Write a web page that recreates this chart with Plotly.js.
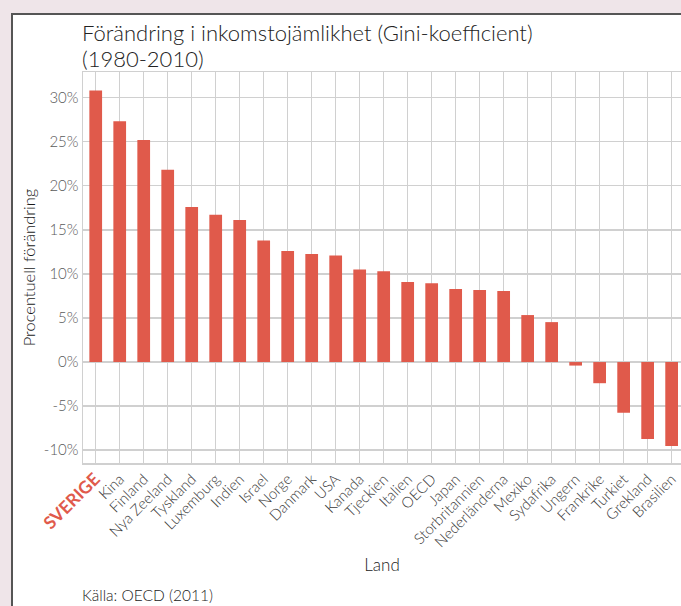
<!DOCTYPE html>
<html>
<head>
<meta charset="utf-8">
<script src="https://cdn.plot.ly/plotly-3.0.1.min.js"></script>
<style>
  html, body { margin: 0; padding: 0; background: #efe5e9; overflow: hidden; }
  #panel { position: absolute; left: 11px; top: 13px; width: 800px; height: 700px;
           background: #ffffff; border-left: 2px solid #555; border-top: 2px solid #555; }
  #chart { position: absolute; left: 0; top: 0; width: 681px; height: 606px; }
</style>
</head>
<body>
<div id="panel"></div>
<div id="chart"></div>
<script>
const countries = ["SVERIGE", "Kina", "Finland", "Nya Zeeland", "Tyskland", "Luxemburg", "Indien",
  "Israel", "Norge", "Danmark", "USA", "Kanada", "Tjeckien", "Italien", "OECD", "Japan",
  "Storbritannien", "Nederländerna", "Mexiko", "Sydafrika", "Ungern", "Frankrike", "Turkiet",
  "Grekland", "Brasilien"];
const changePct = [30.8, 27.3, 25.2, 21.8, 17.6, 16.7, 16.1, 13.8, 12.6, 12.25, 12.1, 10.5, 10.3,
  9.07, 8.95, 8.28, 8.16, 8.05, 5.33, 4.53, -0.4, -2.4, -5.75, -8.73, -9.52];
const yTickVals = [-10, -5, 0, 5, 10, 15, 20, 25, 30];
const highlighted = "SVERIGE";
const titleLines = ["Förändring i inkomstojämlikhet (Gini-koefficient)", "(1980-2010)"];
const sourceText = "Källa: OECD (2011)";

const RED = "#e05a4b";
const FONT = "Lato, 'Open Sans', sans-serif";

const tickText = countries.map(c => c === highlighted
  ? '<span style="font-weight:bold;font-size:17.5px;fill:' + RED + '">' + c + '</span>'
  : c);

const trace = {
  type: "bar",
  x: countries,
  y: changePct,
  marker: { color: RED },
  width: 0.53,
  hoverinfo: "x+y"
};

// plot area: top 72px, bottom 463px -> height 391px
const pxToPaperY = px => (463 - px) / 391;

const layout = {
  width: 681, height: 606,
  paper_bgcolor: "rgba(0,0,0,0)",
  plot_bgcolor: "#ffffff",
  margin: { l: 83, r: 0, t: 72, b: 143 },
  showlegend: false,
  font: { family: FONT, color: "#555", weight: 300 },
  xaxis: {
    type: "category",
    range: [-0.53, 24.39],
    tickmode: "array",
    tickvals: countries,
    ticktext: tickText,
    tickangle: -45,
    tickfont: { family: FONT, size: 15, color: "#3a3a3a", weight: 300 },
    showgrid: true, gridcolor: "#d0d0d0", gridwidth: 1.5,
    showline: true, linecolor: "#d0d0d0", linewidth: 1.5, mirror: true,
    ticks: "",
    title: { text: "Land", font: { family: FONT, size: 17, color: "#222", weight: 300 }, standoff: 10 },
    fixedrange: true
  },
  yaxis: {
    range: [-11.45, 32.9],
    tickmode: "array",
    tickvals: yTickVals,
    ticktext: yTickVals.map(v => v + "%"),
    tickfont: { family: FONT, size: 15, color: "#5a5a5a", weight: 300 },
    showgrid: true, gridcolor: "#d0d0d0", gridwidth: 1.5,
    zeroline: true, zerolinecolor: "#d0d0d0", zerolinewidth: 1.5,
    showline: true, linecolor: "#d0d0d0", linewidth: 1.5, mirror: true,
    ticks: "", ticklen: 0,
    title: { text: "Procentuell förändring", font: { family: FONT, size: 16.5, color: "#1a1a1a", weight: 300 }, standoff: 4 },
    fixedrange: true
  },
  annotations: [
    {
      text: titleLines[0],
      xref: "paper", x: 0, xanchor: "left", xshift: -3,
      yref: "paper", y: pxToPaperY(32), yanchor: "middle",
      showarrow: false,
      font: { family: FONT, size: 22, color: "#222", weight: 300 }
    },
    {
      text: titleLines[1],
      xref: "paper", x: 0, xanchor: "left", xshift: -3,
      yref: "paper", y: pxToPaperY(58), yanchor: "middle",
      showarrow: false,
      font: { family: FONT, size: 22, color: "#222", weight: 300 }
    },
    {
      text: sourceText,
      xref: "paper", x: 0, xanchor: "left", xshift: -3,
      yref: "paper", y: pxToPaperY(595), yanchor: "middle",
      showarrow: false,
      font: { family: FONT, size: 15.5, color: "#222", weight: 300 }
    }
  ]
};

Plotly.newPlot("chart", [trace], layout, { displayModeBar: false, staticPlot: true });
</script>
</body>
</html>
